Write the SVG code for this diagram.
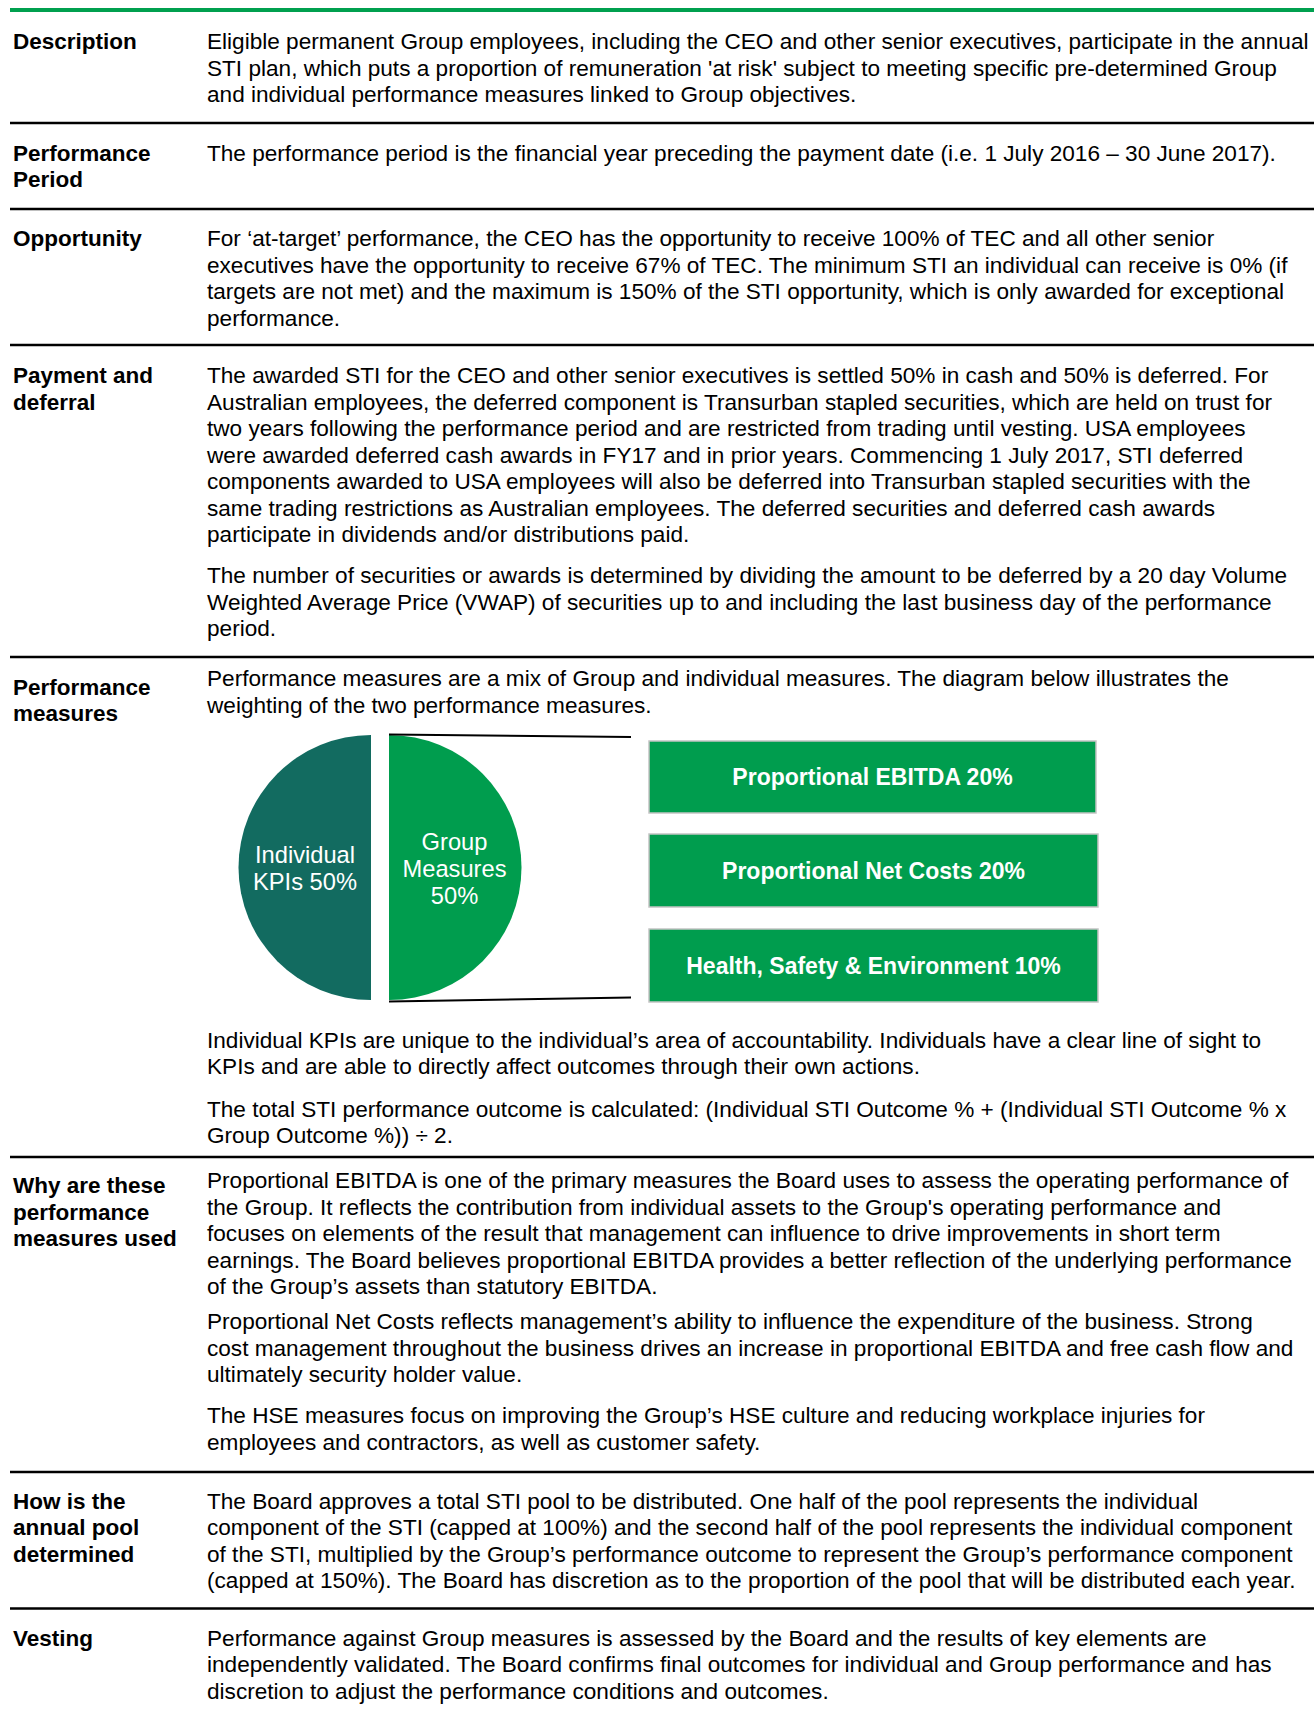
<svg xmlns="http://www.w3.org/2000/svg" width="1314" height="1709" viewBox="0 0 1314 1709">
<style>
.t{font-family:"Liberation Sans",Arial,sans-serif;font-size:22.6px;fill:#000}
.b{font-family:"Liberation Sans",Arial,sans-serif;font-size:22.5px;font-weight:bold;fill:#000}
.rule{stroke:#000;stroke-width:2.5}
.box{fill:#009D4E;stroke:#C4C4C4;stroke-width:1.5}
.bt{font-family:"Liberation Sans",Arial,sans-serif;font-size:23px;font-weight:bold;fill:#fff;text-anchor:middle}
.pt{font-family:"Liberation Sans",Arial,sans-serif;font-size:23.7px;fill:#fff;text-anchor:middle}
.con{stroke:#000;stroke-width:2;fill:none}
</style>
<rect width="1314" height="1709" fill="#fff"/>
<line x1="10" y1="10" x2="1314" y2="10" stroke="#00A04F" stroke-width="4"/>
<g id="rules">
<line class="rule" x1="10" y1="123" x2="1314" y2="123"/>
<line class="rule" x1="10" y1="209" x2="1314" y2="209"/>
<line class="rule" x1="10" y1="345" x2="1314" y2="345"/>
<line class="rule" x1="10" y1="657" x2="1314" y2="657"/>
<line class="rule" x1="10" y1="1157" x2="1314" y2="1157"/>
<line class="rule" x1="10" y1="1472" x2="1314" y2="1472"/>
<line class="rule" x1="10" y1="1608.5" x2="1314" y2="1608.5"/>
</g>
<g id="row-description">
<text class="b" x="13" y="49">Description</text>
<text class="t" x="207" y="49">Eligible permanent Group employees, including the CEO and other senior executives, participate in the annual</text>
<text class="t" x="207" y="75.5">STI plan, which puts a proportion of remuneration 'at risk' subject to meeting specific pre-determined Group</text>
<text class="t" x="207" y="102">and individual performance measures linked to Group objectives.</text>
</g>
<g id="row-period">
<text class="b" x="13" y="160.5">Performance</text>
<text class="b" x="13" y="187">Period</text>
<text class="t" x="207" y="160.5">The performance period is the financial year preceding the payment date (i.e. 1 July 2016 – 30 June 2017).</text>
</g>
<g id="row-opportunity">
<text class="b" x="13" y="246">Opportunity</text>
<text class="t" x="207" y="246">For ‘at-target’ performance, the CEO has the opportunity to receive 100% of TEC and all other senior</text>
<text class="t" x="207" y="272.5">executives have the opportunity to receive 67% of TEC. The minimum STI an individual can receive is 0% (if</text>
<text class="t" x="207" y="299">targets are not met) and the maximum is 150% of the STI opportunity, which is only awarded for exceptional</text>
<text class="t" x="207" y="325.5">performance.</text>
</g>
<g id="row-payment">
<text class="b" x="13" y="383">Payment and</text>
<text class="b" x="13" y="409.5">deferral</text>
<text class="t" x="207" y="383">The awarded STI for the CEO and other senior executives is settled 50% in cash and 50% is deferred. For</text>
<text class="t" x="207" y="409.5">Australian employees, the deferred component is Transurban stapled securities, which are held on trust for</text>
<text class="t" x="207" y="436">two years following the performance period and are restricted from trading until vesting. USA employees</text>
<text class="t" x="207" y="462.5">were awarded deferred cash awards in FY17 and in prior years. Commencing 1 July 2017, STI deferred</text>
<text class="t" x="207" y="489">components awarded to USA employees will also be deferred into Transurban stapled securities with the</text>
<text class="t" x="207" y="515.5">same trading restrictions as Australian employees. The deferred securities and deferred cash awards</text>
<text class="t" x="207" y="542">participate in dividends and/or distributions paid.</text>
<text class="t" x="207" y="583">The number of securities or awards is determined by dividing the amount to be deferred by a 20 day Volume</text>
<text class="t" x="207" y="609.5">Weighted Average Price (VWAP) of securities up to and including the last business day of the performance</text>
<text class="t" x="207" y="636">period.</text>
</g>
<g id="row-measures">
<text class="b" x="13" y="694.5">Performance</text>
<text class="b" x="13" y="721">measures</text>
<text class="t" x="207" y="686">Performance measures are a mix of Group and individual measures. The diagram below illustrates the</text>
<text class="t" x="207" y="712.5">weighting of the two performance measures.</text>
<text class="t" x="207" y="1047.5">Individual KPIs are unique to the individual’s area of accountability. Individuals have a clear line of sight to</text>
<text class="t" x="207" y="1074">KPIs and are able to directly affect outcomes through their own actions.</text>
<text class="t" x="207" y="1116.5">The total STI performance outcome is calculated: (Individual STI Outcome % + (Individual STI Outcome % x</text>
<text class="t" x="207" y="1143">Group Outcome %)) ÷ 2.</text>
</g>
<g id="pie-individual">
<path d="M371,735 A132.5,132.5 0 0 0 371,1000 Z" fill="#126B60"/>
<text class="pt" x="305" y="863">Individual</text>
<text class="pt" x="305" y="890">KPIs 50%</text>
</g>
<g id="pie-group">
<path d="M389,735 A132.5,132.5 0 0 1 389,1000 Z" fill="#009D4E"/>
<text class="pt" x="454.5" y="849.5">Group</text>
<text class="pt" x="454.5" y="877">Measures</text>
<text class="pt" x="454.5" y="904">50%</text>
</g>
<g id="connectors">
<line class="con" x1="389" y1="734.5" x2="631" y2="737"/>
<line class="con" x1="389" y1="1001.5" x2="631" y2="997.5"/>
</g>
<g id="box-ebitda">
<rect class="box" x="649" y="741" width="447" height="72"/>
<text class="bt" x="872.5" y="785">Proportional EBITDA 20%</text>
</g>
<g id="box-netcosts">
<rect class="box" x="649" y="834" width="449" height="73"/>
<text class="bt" x="873.5" y="878.7">Proportional Net Costs 20%</text>
</g>
<g id="box-hse">
<rect class="box" x="649" y="929" width="449" height="73"/>
<text class="bt" x="873.5" y="973.7">Health, Safety &amp; Environment 10%</text>
</g>
<g id="row-why">
<text class="b" x="13" y="1193">Why are these</text>
<text class="b" x="13" y="1219.5">performance</text>
<text class="b" x="13" y="1246">measures used</text>
<text class="t" x="207" y="1188">Proportional EBITDA is one of the primary measures the Board uses to assess the operating performance of</text>
<text class="t" x="207" y="1214.5">the Group. It reflects the contribution from individual assets to the Group's operating performance and</text>
<text class="t" x="207" y="1241">focuses on elements of the result that management can influence to drive improvements in short term</text>
<text class="t" x="207" y="1267.5">earnings. The Board believes proportional EBITDA provides a better reflection of the underlying performance</text>
<text class="t" x="207" y="1294">of the Group’s assets than statutory EBITDA.</text>
<text class="t" x="207" y="1329">Proportional Net Costs reflects management’s ability to influence the expenditure of the business. Strong</text>
<text class="t" x="207" y="1355.5">cost management throughout the business drives an increase in proportional EBITDA and free cash flow and</text>
<text class="t" x="207" y="1382">ultimately security holder value.</text>
<text class="t" x="207" y="1423">The HSE measures focus on improving the Group’s HSE culture and reducing workplace injuries for</text>
<text class="t" x="207" y="1449.5">employees and contractors, as well as customer safety.</text>
</g>
<g id="row-pool">
<text class="b" x="13" y="1508.5">How is the</text>
<text class="b" x="13" y="1535">annual pool</text>
<text class="b" x="13" y="1561.5">determined</text>
<text class="t" x="207" y="1508.5">The Board approves a total STI pool to be distributed. One half of the pool represents the individual</text>
<text class="t" x="207" y="1535">component of the STI (capped at 100%) and the second half of the pool represents the individual component</text>
<text class="t" x="207" y="1561.5">of the STI, multiplied by the Group’s performance outcome to represent the Group’s performance component</text>
<text class="t" x="207" y="1588">(capped at 150%). The Board has discretion as to the proportion of the pool that will be distributed each year.</text>
</g>
<g id="row-vesting">
<text class="b" x="13" y="1645.5">Vesting</text>
<text class="t" x="207" y="1645.5">Performance against Group measures is assessed by the Board and the results of key elements are</text>
<text class="t" x="207" y="1672">independently validated. The Board confirms final outcomes for individual and Group performance and has</text>
<text class="t" x="207" y="1698.5">discretion to adjust the performance conditions and outcomes.</text>
</g>
</svg>
